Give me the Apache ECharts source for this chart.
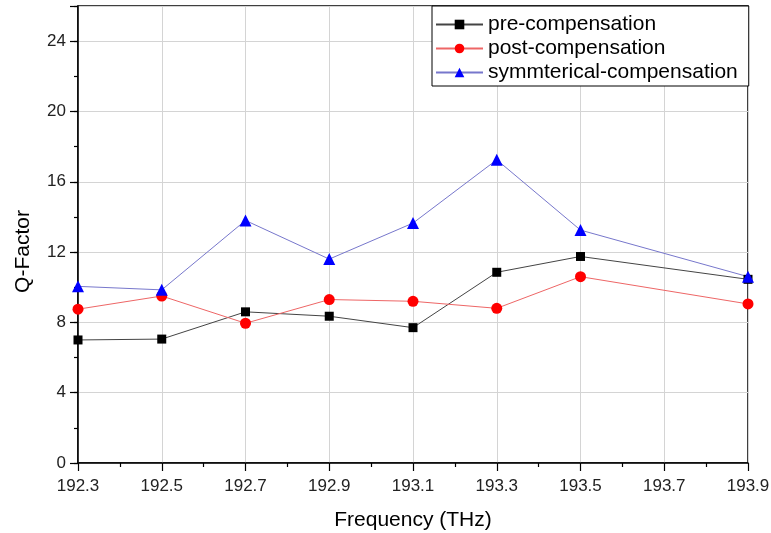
<!DOCTYPE html>
<html>
<head>
<meta charset="utf-8">
<script src="https://cdn.jsdelivr.net/npm/echarts@6/dist/echarts.min.js"></script>
<style>
  html, body { margin: 0; padding: 0; background: #fff; }
  #chart { width: 771px; height: 533px; }
</style>
</head>
<body>
<div id="chart"></div>
<script>
// frequencies (THz) and Q-factor values
var freqs = [192.3, 192.5, 192.7, 192.9, 193.1, 193.3, 193.5, 193.9];
var preComp = [7.0, 7.05, 8.6, 8.35, 7.7, 10.85, 11.75, 10.45];
var postComp = [8.75, 9.5, 7.95, 9.3, 9.2, 8.8, 10.6, 9.05];
var symComp = [10.05, 9.85, 13.8, 11.6, 13.65, 17.25, 13.25, 10.6];
var seriesNames = ['pre-compensation', 'post-compensation', 'symmterical-compensation'];

// x axis runs from the first frequency, so ticks count from 0
var base = 192.3;
var font = 'Liberation Sans, Arial, sans-serif';

function pairs(vals) {
	return freqs.map(function (f, i) {
		return [Math.round((f - base) * 10) / 10, vals[i]];
	});
}

var chart = echarts.init(document.getElementById('chart'));

var option = {
	animation: false,
	backgroundColor: '#fff',
	grid: {
		left: 78, right: 23, top: 6, bottom: 70,
		outerBoundsMode: 'none',
		show: true, borderColor: '#000', borderWidth: 1.5
	},
	legend: {
		orient: 'vertical',
		left: 432, top: 6,
		padding: [8, 11, 3, 3],
		itemWidth: 47, itemHeight: 12, itemGap: 3,
		backgroundColor: '#fff',
		borderColor: '#000', borderWidth: 1,
		textStyle: { fontSize: 21, color: '#000', fontFamily: font },
		data: seriesNames
	},
	xAxis: {
		type: 'value',
		min: 0, max: 1.6, interval: 0.2,
		name: 'Frequency (THz)',
		nameLocation: 'middle', nameGap: 47,
		nameTextStyle: { fontSize: 21, color: '#000', fontFamily: font },
		axisLine: { onZero: false, lineStyle: { color: '#000', width: 1.5 } },
		axisTick: { inside: false, length: 8, lineStyle: { color: '#000', width: 1.2 } },
		minorTick: { show: true, splitNumber: 2, length: 4, lineStyle: { color: '#000', width: 1.2 } },
		axisLabel: {
			margin: 15, fontSize: 17, color: '#222', fontFamily: font,
			formatter: function (v) { return (base + v).toFixed(1); }
		},
		splitLine: { show: true, lineStyle: { color: '#d4d4d4', width: 1 } }
	},
	yAxis: [{
		type: 'value',
		min: 0, max: 26, interval: 4,
		name: 'Q-Factor',
		nameLocation: 'middle', nameGap: 44,
		nameTextStyle: { fontSize: 21, color: '#000', fontFamily: font, padding: [0, 34, 0, 0] },
		axisLine: { show: true, lineStyle: { color: '#000', width: 1.5 } },
		axisTick: { inside: false, length: 8, lineStyle: { color: '#000', width: 1.2 } },
		axisLabel: {
			margin: 12, fontSize: 17, color: '#222', fontFamily: font,
			formatter: function (v) { return v > 24 ? '' : String(v); }
		},
		splitLine: { show: true, lineStyle: { color: '#d4d4d4', width: 1 } }
	}, {
		// minor ticks every 2
		type: 'value', position: 'left',
		min: 0, max: 26, interval: 2,
		axisLine: { show: false },
		axisTick: { show: true, inside: false, length: 4, lineStyle: { color: '#000', width: 1.2 } },
		axisLabel: { show: false },
		splitLine: { show: false }
	}],
	series: [{
		name: seriesNames[0],
		type: 'line',
		data: pairs(preComp),
		symbol: 'rect', symbolSize: 9,
		itemStyle: { color: '#000' },
		lineStyle: { color: '#444', width: 1 }
	}, {
		name: seriesNames[1],
		type: 'line',
		data: pairs(postComp),
		symbol: 'circle', symbolSize: 11,
		itemStyle: { color: '#ff0000' },
		lineStyle: { color: '#ee6666', width: 1 }
	}, {
		name: seriesNames[2],
		type: 'line',
		data: pairs(symComp),
		symbol: 'triangle', symbolSize: 12,
		itemStyle: { color: '#0000ff' },
		lineStyle: { color: '#7777cc', width: 1 }
	}]
};

chart.setOption(option);
</script>
</body>
</html>
